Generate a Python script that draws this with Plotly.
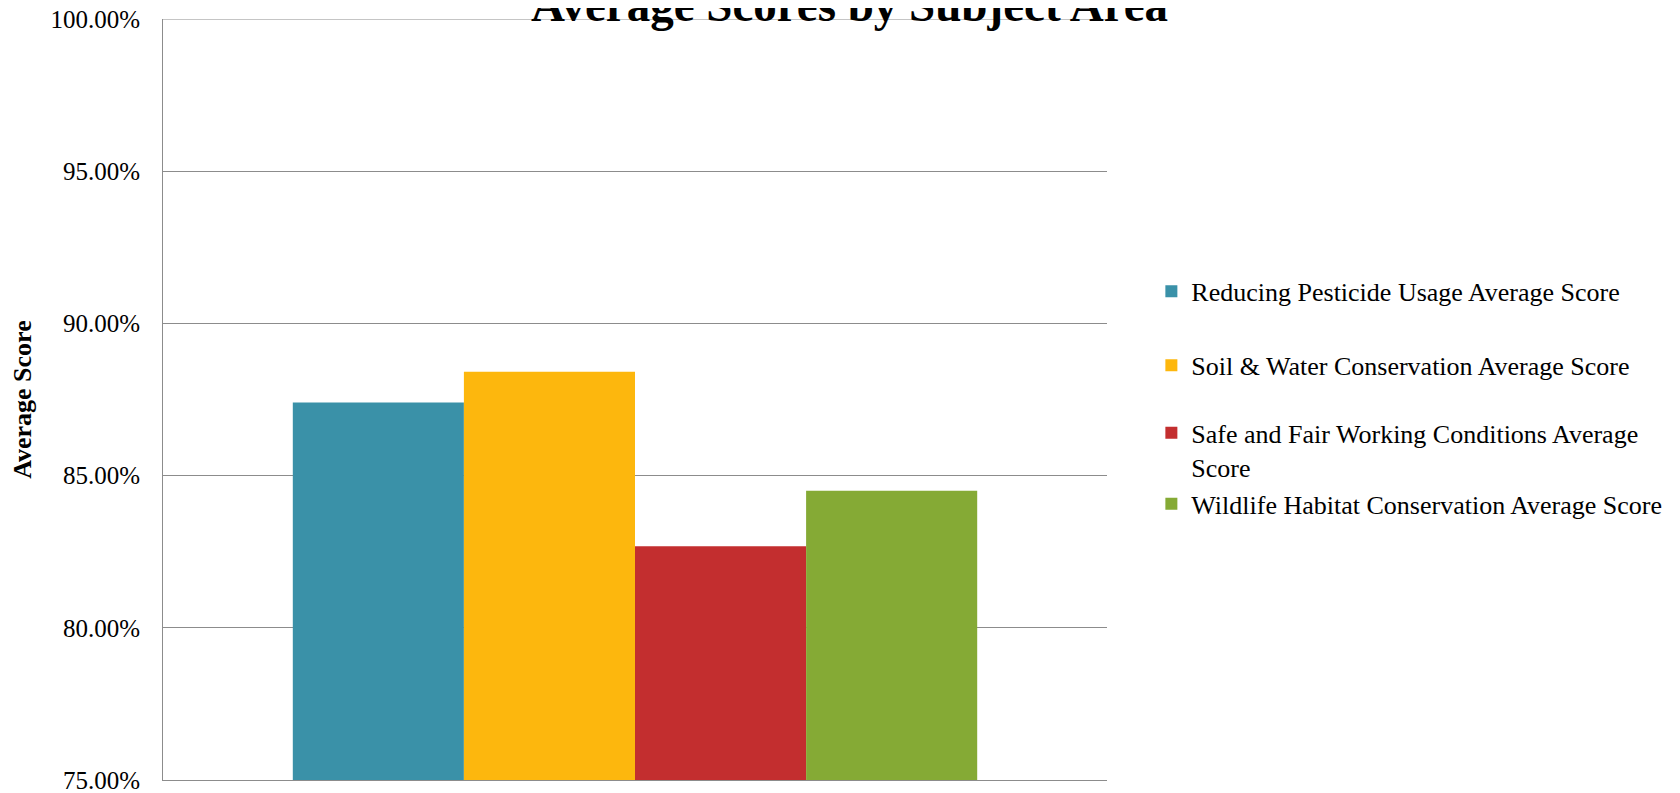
import plotly.graph_objects as go

# values (fractions)
series = [
    "Reducing Pesticide Usage Average Score",
    "Soil & Water Conservation Average Score",
    "Safe and Fair Working Conditions Average<br>Score",
    "Wildlife Habitat Conservation Average Score",
]
scores = [0.8740, 0.8841, 0.8268, 0.8450]
colors = ["#3A91A8", "#FDB70D", "#C32E2F", "#85AA35"]
ytick_vals = [0.75, 0.80, 0.85, 0.90, 0.95, 1.00]

FONT = "Liberation Serif"

# one small legend per series so the spacing can follow the original
legend_y = [0.642, 0.545, 0.434, 0.363]

fig = go.Figure()
for i, (name, val, col) in enumerate(zip(series, scores, colors)):
    lg = "legend" if i == 0 else f"legend{i + 1}"
    fig.add_trace(go.Bar(
        x=[""], y=[val], name=name,
        marker=dict(color=col, line=dict(width=0)),
        legend=lg,
    ))

layout_legends = {}
for i, yy in enumerate(legend_y):
    key = "legend" if i == 0 else f"legend{i + 1}"
    layout_legends[key] = dict(
        x=1.047, y=yy, xanchor="left", yanchor="middle",
        font=dict(family=FONT, size=26, color="black"),
        bgcolor="rgba(0,0,0,0)",
        valign="top",
    )

# the page adds an 8px body margin, so the figure is drawn 8px smaller
fig.update_layout(
    width=1672, height=785,
    margin=dict(l=155, r=573, t=11, b=13, autoexpand=False),
    paper_bgcolor="white", plot_bgcolor="white",
    barmode="group", bargap=0.275, bargroupgap=0,
    xaxis=dict(showticklabels=False, showgrid=False, showline=True,
               linecolor="#8C8C8C", linewidth=1, zeroline=False,
               automargin=False),
    yaxis=dict(range=[0.75, 1.0], tickvals=ytick_vals, tickformat=".2%",
               showgrid=True, gridcolor="#8C8C8C", gridwidth=1,
               showline=True, linecolor="#8C8C8C", linewidth=1,
               ticks="", ticklabelstandoff=17, zeroline=False,
               ticklabeloverflow="allow", automargin=False,
               tickfont=dict(family=FONT, size=25, color="black")),
    # top gridline at 100% (plotly drops the grid line on the range edge)
    shapes=[dict(type="line", xref="paper", x0=0, x1=1, yref="y",
                 y0=ytick_vals[-1], y1=ytick_vals[-1],
                 line=dict(color="#8C8C8C", width=1))],
    annotations=[
        dict(text="<b>Average Scores by Subject Area</b>",
             x=0.7267, y=1.018, xref="paper", yref="paper",
             xanchor="center", yanchor="middle", showarrow=False,
             font=dict(family=FONT, size=47, color="black")),
        dict(text="<b>Average Score</b>", textangle=-90,
             x=-0.149, y=0.5, xref="paper", yref="paper",
             xanchor="center", yanchor="middle", showarrow=False,
             font=dict(family=FONT, size=26, color="black")),
    ],
    showlegend=True,
    **layout_legends,
)

fig.write_html("out.html")
